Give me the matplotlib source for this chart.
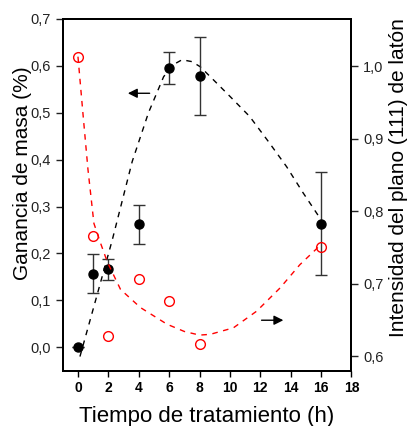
import numpy as np
import matplotlib
matplotlib.use('Agg')
import matplotlib.pyplot as plt
from matplotlib.ticker import FuncFormatter

plt.rcParams['font.family'] = ['Liberation Sans', 'DejaVu Sans']

# ganancia de masa (eje izquierdo)
t_masa = [0, 1, 2, 4, 6, 8, 16]
masa = [0.0, 0.157, 0.166, 0.262, 0.595, 0.578, 0.263]
masa_err = [0.0, 0.042, 0.023, 0.042, 0.034, 0.083, 0.110]

# intensidad del plano (111) (eje derecho)
t_int = [0, 1, 2, 4, 6, 8, 16]
intensidad = [1.013, 0.766, 0.628, 0.707, 0.676, 0.617, 0.750]

# curvas de tendencia
t_curva_masa = [0.13, 1.05, 2.26, 3.57, 4.64, 5.64, 6.3, 6.85, 7.5, 8.05, 8.92,
                10.0, 11.3, 12.5, 13.73, 14.8, 15.87]
curva_masa = [-0.02, 0.087, 0.229, 0.396, 0.5, 0.577, 0.603, 0.613, 0.609, 0.598, 0.570,
              0.535, 0.492, 0.44, 0.385, 0.33, 0.278]
t_curva_int = [0.0, 0.33, 0.66, 1.05, 1.5, 1.93, 2.8, 4.11, 5.86, 7.0, 8.0, 8.7,
               10.23, 11.76, 13.3, 14.6, 15.7, 16.0]
curva_int = [1.013, 0.934, 0.857, 0.783, 0.755, 0.73, 0.692, 0.667, 0.644, 0.634, 0.629, 0.630,
             0.639, 0.662, 0.694, 0.726, 0.748, 0.755]

fig = plt.figure(figsize=(4.13, 4.26), dpi=100)
ax = fig.add_axes([0.152, 0.13, 0.699, 0.8255])
ax2 = ax.twinx()

ax.plot(t_curva_masa, curva_masa, color='black', ls=(0, (4, 4)), lw=1.0)
ax.errorbar(t_masa, masa, yerr=masa_err, fmt='o', color='black', ms=6.5,
            ecolor='#333333', elinewidth=1.0, capsize=4, capthick=1.0, zorder=3)

ax2.plot(t_curva_int, curva_int, color='red', ls=(0, (4, 4)), lw=1.0)
ax2.plot(t_int, intensidad, 'o', mfc='none', mec='red', ms=7, mew=1.0)

ax.annotate('', xy=(3.1, 0.5415), xytext=(4.9, 0.5415),
            arrowprops=dict(arrowstyle='-|>', color='black', lw=1.0, mutation_scale=14))
ax2.annotate('', xy=(13.7, 0.6495), xytext=(11.9, 0.6495),
             arrowprops=dict(arrowstyle='-|>', color='black', lw=1.0, mutation_scale=14))

coma = FuncFormatter(lambda v, p: ('%.1f' % v).replace('.', ','))
ax.set_xlim(-1, 18)
ax.set_ylim(-0.05, 0.7)
ax2.set_ylim(0.58, 1.065)
ax.set_xticks(range(0, 19, 2))
ax.set_yticks(np.arange(0, 0.71, 0.1))
ax2.set_yticks(np.arange(0.6, 1.01, 0.1))
ax.yaxis.set_major_formatter(coma)
ax2.yaxis.set_major_formatter(coma)

ax.tick_params(axis='x', direction='out', length=4, width=1, labelsize=10)
for lab in ax.get_xticklabels():
    lab.set_fontweight('bold')
ax.tick_params(axis='y', direction='out', length=5, width=1, labelsize=10.5, colors='#222222')
ax2.tick_params(axis='y', direction='out', length=5, width=1, labelsize=10.5, colors='#222222')

for a in (ax, ax2):
    for s in a.spines.values():
        s.set_linewidth(1.4)

ax.set_xlabel('Tiempo de tratamiento (h)', fontsize=16, labelpad=8)
ax.set_ylabel('Ganancia de masa (%)', fontsize=15)
ax.yaxis.set_label_coords(-0.106, 0.561)
ax2.set_ylabel('Intensidad del plano (111) de latón', fontsize=15)
ax2.yaxis.set_label_coords(1.13, 0.55)

fig.savefig('out.png', dpi=100)
